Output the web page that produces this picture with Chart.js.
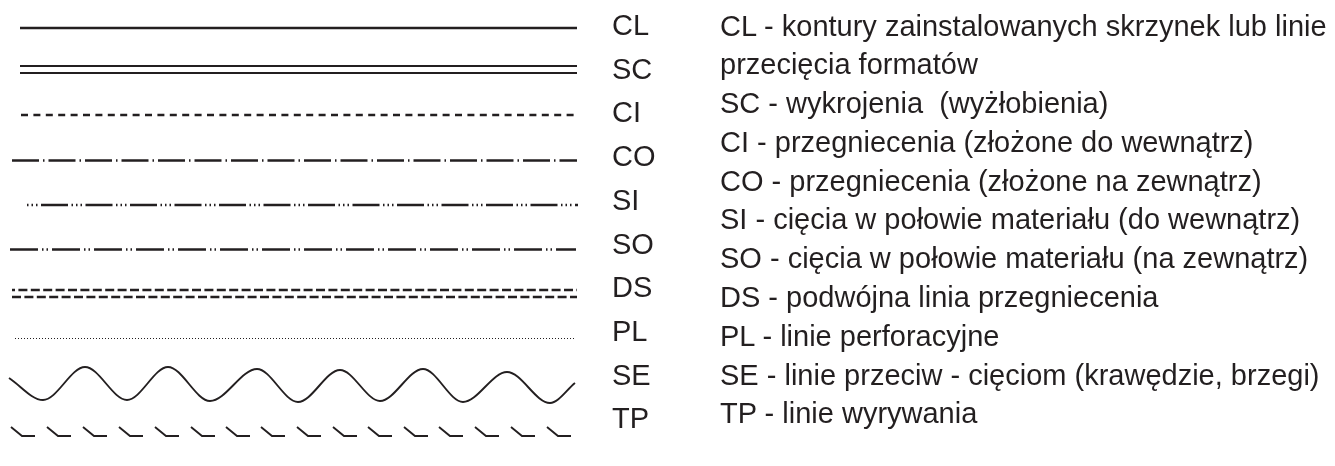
<!DOCTYPE html>
<html lang="pl">
<head>
<meta charset="utf-8">
<title>Rodzaje linii</title>
<script src="https://cdn.jsdelivr.net/npm/chart.js@4.4.1/dist/chart.umd.min.js"></script>
<style>
  html, body { margin: 0; padding: 0; background: #fff; }
  #wrap { position: relative; width: 1335px; height: 466px; overflow: hidden; }
  #chart { position: absolute; left: 0; top: 0; }
  .txt { position: absolute; font-family: "Liberation Sans", Arial, sans-serif; font-size: 29px; color: #231f20; white-space: pre; }
  #codes { left: 612px; top: 4px; line-height: 43.7px; }
  #desc { left: 720px; top: 6.5px; line-height: 38.8px; }
</style>
</head>
<body>
<div id="wrap">
  <canvas id="chart" width="1335" height="466"></canvas>
  <div id="codes" class="txt"></div>
  <div id="desc" class="txt"></div>
</div>
<script>
// ---- DATA ----
const codes = ['CL', 'SC', 'CI', 'CO', 'SI', 'SO', 'DS', 'PL', 'SE', 'TP'];
const descLines = [
  'CL - kontury zainstalowanych skrzynek lub linie',
  'przecięcia formatów',
  'SC - wykrojenia  (wyżłobienia)',
  'CI - przegniecenia (złożone do wewnątrz)',
  'CO - przegniecenia (złożone na zewnątrz)',
  'SI - cięcia w połowie materiału (do wewnątrz)',
  'SO - cięcia w połowie materiału (na zewnątrz)',
  'DS - podwójna linia przegniecenia',
  'PL - linie perforacyjne',
  'SE - linie przeciw - cięciom (krawędzie, brzegi)',
  'TP - linie wyrywania',
];

// straight sample lines (one entry per stroke)
const lineCodes = ['CL', 'SC', 'SC', 'CI', 'CO', 'SI', 'SO', 'DS', 'DS', 'PL'];
const lineY = [28, 66, 73, 115, 160.5, 205, 249.5, 290, 297, 338.5];
const lineX0 = [20, 20, 20, 21, 12, 27, 10, 12, 12, 15];
const lineX1 = [577, 577, 577, 577, 577, 578, 576, 577, 577, 575];

const seX = [9, 43, 85, 127, 168, 210, 257, 298, 340, 380, 423, 463, 507, 550, 575];
const seY = [378, 400, 367, 400, 367, 401, 369, 402, 370, 401, 369, 402, 372, 403, 383];

// TP tear marks: left end of each mark
const tpX = [11, 47, 83, 119, 155, 191, 226, 261, 297, 333, 368, 404, 439, 475, 511, 547];
const tpTop = 427;
const tpBottom = 436;

// ---- STYLES ----
const ink = '#231f20';
const styles = {
  CL: {width: 2.5, dash: []},
  SC: {width: 1.8, dash: []},
  CI: {width: 2.4, dash: [7, 5.4]},
  CO: {width: 2.3, dash: [27, 4, 1.5, 4]},
  SI: {width: 2.3, dash: [1.5, 3, 1.5, 3, 1.5, 3.5, 27, 3.5]},
  SO: {width: 2.3, dash: [28, 4, 1.5, 3, 1.5, 4]},
  DS: {width: 2.4, dash: [9, 3.4]},
  PL: {width: 1.1, dash: [1, 2]},
};

// ---- TEXT ----
document.getElementById('codes').textContent = codes.join('\n');
document.getElementById('desc').textContent = descLines.join('\n');

// ---- DATASETS ----
const datasets = lineCodes.map((c, i) => {
  const s = styles[c];
  return {
    label: c,
    data: [{x: lineX0[i], y: lineY[i]}, {x: lineX1[i], y: lineY[i]}],
    borderColor: ink,
    borderWidth: s.width,
    borderDash: s.dash,
    borderDashOffset: i === 7 ? 6 : 0, // upper DS row starts on a short piece
    tension: 0,
  };
});

datasets.push({
  label: 'SE',
  data: seX.map((x, i) => ({x, y: seY[i]})),
  borderColor: ink,
  borderWidth: 1.9,
  cubicInterpolationMode: 'monotone',
});

const tpData = [];
tpX.forEach(x => {
  tpData.push({x, y: tpTop}, {x: x + 11, y: tpBottom}, {x: x + 24, y: tpBottom}, {x: x + 25, y: null});
});
datasets.push({
  label: 'TP',
  data: tpData,
  borderColor: ink,
  borderWidth: 1.9,
  spanGaps: false,
  tension: 0,
  borderJoinStyle: 'miter',
});

new Chart(document.getElementById('chart'), {
  type: 'line',
  data: {datasets},
  options: {
    responsive: false,
    animation: false,
    devicePixelRatio: 1,
    layout: {padding: 0},
    elements: {point: {radius: 0, hoverRadius: 0}},
    plugins: {legend: {display: false}, tooltip: {enabled: false}},
    scales: {
      x: {type: 'linear', min: 0, max: 1335, display: false},
      y: {type: 'linear', min: 0, max: 466, reverse: true, display: false},
    },
  },
});
</script>
</body>
</html>
